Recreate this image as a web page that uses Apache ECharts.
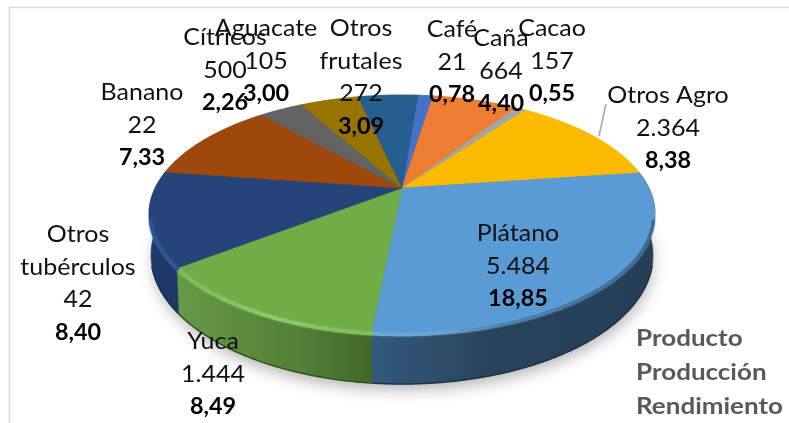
<!DOCTYPE html>
<html><head><meta charset="utf-8">
<style>html,body{margin:0;padding:0;background:#fff}#c{width:789px;height:423px}</style>
<script src="https://cdn.jsdelivr.net/npm/echarts@6/dist/echarts.min.js"></script>
</head><body><div id="c"></div>
<script>
const products = ['Café','Caña','Cacao','Otros Agro','Plátano','Yuca','Otros\ntubérculos','Banano','Cítricos','Aguacate','Otros\nfrutales'];
const production = ['21','664','157','2.364','5.484','1.444','42','22','500','105','272'];
const yieldLabels = ['0,78','4,40','0,55','8,38','18,85','8,49','8,40','7,33','2,26','3,00','3,09'];
const yieldValues = [0.78,4.40,0.55,8.38,18.85,8.49,8.40,7.33,2.26,3.00,3.09];
const legendLines = ['Producto','Producción','Rendimiento'];

const sliceColors = ['#4472c4','#ed7d31','#a5a5a5','#fcbb00','#5b9bd5','#70ad47','#264478','#9e480e','#636363','#997300','#255e91'];
const rimStops = {
  4:[[372,'#6ea9de'],[440,'#6aa3d6'],[500,'#4e84b4'],[656,'#3d6a90']],
  5:[[180,'#7db859'],[270,'#8fcb6a'],[372,'#7fbc5a']],
  6:[[148,'#2b5595'],[185,'#2f5a9c']]
};
const wallStops = {
  4:[[372,'#34597c'],[500,'#274259'],[650,'#253f56']],
  5:[[180,'#659944'],[300,'#537f37'],[372,'#436829']],
  6:[[150,'#1f3a68'],[185,'#1e3866']]
};
const floorColors = {4:'#1d3347',5:'#34521f',6:'#182e55'};
const labelAnchors = [[452,30],[501,39],[552,29],[668,96],[518,234],[213,342],[78,235],[142,93],[225,38],[266,29],[361,29]];

const total = yieldValues.reduce((s,v)=>s+v,0);
const rotation = 4.5, apexX = 402, apexY = 188, persp = -0.2186, scaleA = 246.9, scaleB = 113.3;
const top0 = {x:402,y:214,rx:253,ry:119}, low0 = {x:402,y:255,rx:251,ry:129};
function rim(deg,r){
  const t = deg*Math.PI/180, u = r*Math.sin(t), v = -r*Math.cos(t), d = 1+persp*v;
  return [apexX+scaleA*u/d, apexY+scaleB*v/d];
}
function low(p){
  return [low0.x+low0.rx*(p[0]-top0.x)/top0.rx, low0.y+low0.ry*(p[1]-top0.y)/top0.ry];
}
function range(idx){
  let s = 0; for(let i=0;i<idx;i++) s += yieldValues[i];
  return [rotation+s/total*360, rotation+(s+yieldValues[idx])/total*360];
}
function arc(a,b){
  const pts=[]; const n=Math.max(2,Math.ceil((b-a)*1.5));
  for(let i=0;i<=n;i++) pts.push(rim(a+(b-a)*i/n,1));
  return pts;
}
function gradient(stops){
  const x0=stops[0][0], x1=stops[stops.length-1][0];
  return {type:'linear',global:true,x:x0,y:0,x2:x1,y2:0,
    colorStops:stops.map(s=>({offset:(s[0]-x0)/(x1-x0),color:s[1]}))};
}
function lineText(text,x,y,font,fill,scaleX,align){
  return {type:'text',x,y,scaleX,style:{text,x:0,y:0,align,verticalAlign:'middle',font,fill}};
}
const base = {coordinateSystem:'none',silent:true,animation:false,clip:false};
const seriesData = yieldValues.map(v=>[v]);

const chart = echarts.init(document.getElementById('c'),null,{renderer:'canvas'});
chart.setOption({
  backgroundColor:'#fff',
  animation:false,
  graphic:[{type:'rect',z:0,silent:true,shape:{x:9.5,y:7.5,width:800,height:430},style:{fill:'none',stroke:'#d9d9d9',lineWidth:1.5}}],
  series:[
    {...base,type:'custom',z:1,data:[[total]],renderItem:()=>({type:'ellipse',
      shape:{cx:low0.x,cy:low0.y,rx:low0.rx-2,ry:low0.ry-2},
      style:{fill:'#555',shadowBlur:16,shadowOffsetX:1,shadowOffsetY:7,shadowColor:'rgba(0,0,0,0.32)'}})},
    {...base,type:'custom',z:2,data:seriesData,renderItem:(p,api)=>{
      const i=p.dataIndex, [a,b]=range(i); api.value(0);
      const pts=arc(a,b), lows=pts.map(low);
      const fill=wallStops[i]?gradient(wallStops[i]):sliceColors[i];
      const children=[{type:'polygon',shape:{points:pts.concat(lows.slice().reverse())},style:{fill,stroke:fill,lineWidth:0.6}}];
      if(floorColors[i]) children.push({type:'polyline',shape:{points:lows.filter(q=>q[1]>265)},
        style:{fill:'none',stroke:floorColors[i],lineWidth:1.5}});
      return {type:'group',children};
    }},
    {...base,type:'custom',z:3,data:seriesData,renderItem:(p,api)=>{
      const i=p.dataIndex, [a,b]=range(i); api.value(0);
      return {type:'polygon',shape:{points:[[apexX,apexY]].concat(arc(a,b))},
        style:{fill:sliceColors[i],stroke:sliceColors[i],lineWidth:0.5}};
    }},
    {...base,type:'custom',z:4,data:seriesData,renderItem:(p,api)=>{
      const i=p.dataIndex, [a,b]=range(i); api.value(0);
      if(!rimStops[i]) return {type:'group',children:[]};
      const pts=arc(a,b).filter(q=>q[1]>218).map(q=>[q[0]+(q[0]<apexX?1.5:-1.5),q[1]+1.5]);
      return {type:'polyline',shape:{points:pts},
        style:{fill:'none',stroke:gradient(rimStops[i]),lineWidth:3.5,shadowBlur:2,shadowColor:rimStops[i][1][1]}};
    }},
    {...base,type:'custom',z:5,data:seriesData,renderItem:(p,api)=>{
      const i=p.dataIndex, [x,y]=labelAnchors[i]; api.value(0);
      const lines=products[i].split('\n').concat([production[i]]);
      const children=lines.map((t,k)=>lineText(t,x,y+k*32.5,'22.5px Lato','#111',1.11,'center'));
      children.push(lineText(yieldLabels[i],x,y+lines.length*32.5,'bold 22.5px Lato','#000',1.04,'center'));
      return {type:'group',children};
    }},
    {...base,type:'custom',z:5,data:legendLines.map((_,i)=>[i]),renderItem:(p,api)=>
      lineText(legendLines[p.dataIndex],636,339+api.value(0)*34,'bold 23px Lato','#595959',1.13,'left')},
    {...base,type:'custom',z:5,data:[[3]],renderItem:()=>({type:'line',
      shape:{x1:606,y1:104,x2:599,y2:136},style:{stroke:'#a6a6a6',lineWidth:1.5}})}
  ]
});
</script></body></html>
